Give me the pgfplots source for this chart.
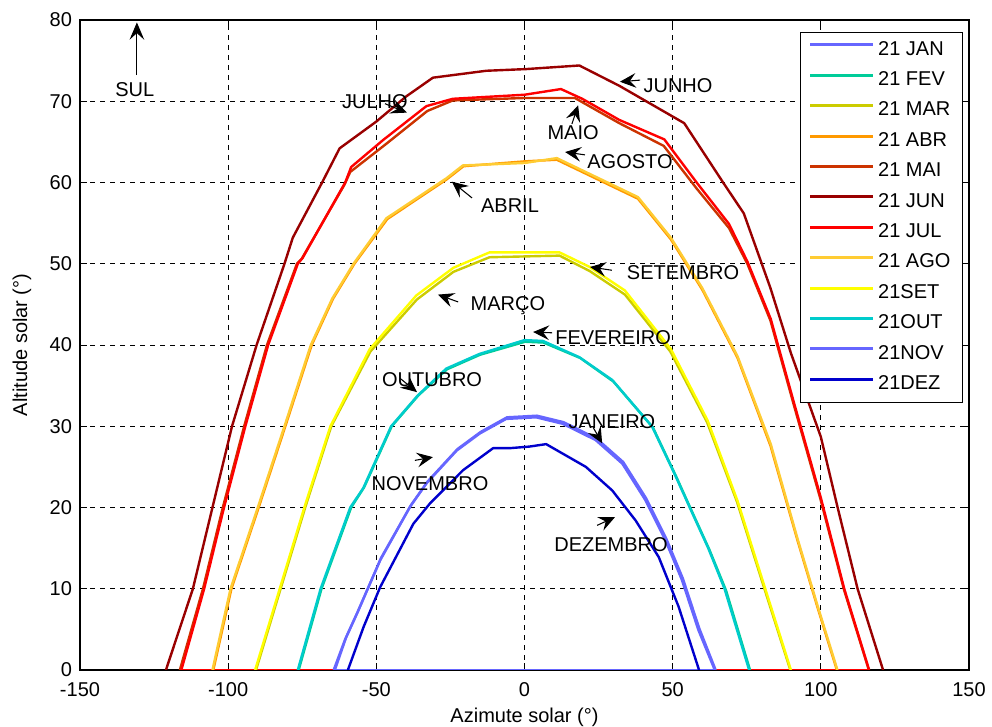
\documentclass[border=0pt]{standalone}
\usepackage{fontspec}
\setmainfont{Liberation Sans}
\usepackage{pgfplots}
\pgfplotsset{compat=1.18}
\usetikzlibrary{arrows.meta}
\definecolor{cjan}{HTML}{6666FF}
\definecolor{cfev}{HTML}{00CC99}
\definecolor{cmar}{HTML}{CCCC00}
\definecolor{cabr}{HTML}{FF9900}
\definecolor{cmai}{HTML}{CC3300}
\definecolor{cjun}{HTML}{990000}
\definecolor{cjul}{HTML}{FF0000}
\definecolor{cago}{HTML}{FFCC33}
\definecolor{cset}{HTML}{FFFF00}
\definecolor{cout}{HTML}{00CCCC}
\definecolor{cnov}{HTML}{6666FF}
\definecolor{cdez}{HTML}{0000CC}
\newcommand{\fs}{\fontsize{15}{18}\selectfont}
\begin{document}
\begin{tikzpicture}
\begin{axis}[name=ax,
  scale only axis, width=666.75pt, height=487.5pt,
  xmin=-150, xmax=150, ymin=0, ymax=80,
  xtick={-150,-100,...,150}, ytick={0,10,...,80},
  grid=major, grid style={black, dash pattern=on 4pt off 3.5pt, line width=0.6pt},
  tick align=inside, xtick pos=both, ytick pos=both, major tick length=5pt,
  tick style={black, line width=0.6pt},
  axis line style={black, line width=0.8pt},
  ticklabel style={font=\fs},
  xticklabel style={yshift=-5.5pt},
  yticklabel style={xshift=-2.5pt},
  /pgf/number format/assume math mode=true,
  xlabel={Azimute solar (°)}, ylabel={Altitude solar (°)},
  every axis x label/.style={at={(axis description cs:0.5,-0.0728)}, anchor=center, font=\fs},
  every axis y label/.style={at={(axis description cs:-0.0652,0.5)}, anchor=center, rotate=90, font=\fs},
  legend style={at={(axis description cs:1,1)}, anchor=north east, xshift=-4.5pt, yshift=-9pt,
    draw=black, line width=0.8pt, fill=white, font=\fs, row sep=8.3pt,
    inner xsep=6pt, inner ysep=6pt,
    nodes={text height=11pt, text depth=3.5pt, inner ysep=0pt, inner xsep=3pt}},
  legend cell align=left,
  legend image code/.code={\draw[#1, line width=2.2pt] (0pt,4pt) -- (47pt,4pt);},
  every axis plot/.append style={line width=1.8pt, line join=round},
]
% zero-altitude segments along the bottom
\addplot[forget plot, cjul] coordinates {(-116,0) (116,0)};
\addplot[forget plot, cnov] coordinates {(-64.4,0) (64.2,0)};
% 21 JAN
\addplot[cjan] coordinates {(-64.4,0) (-60.5,3.8) (-56.5,7) (-48.7,13.5) (-38.6,20.1) (-33,23) (-22.9,27) (-15.1,29.1) (-6.2,30.9) (3.9,31.1) (12.9,30.3) (24,28.3) (33,25.4) (40.8,20.9) (47.5,16) (53.1,11.1) (58.7,4.9) (64.2,0)};
% 21 FEV
\addplot[cfev] coordinates {(-76.2,0) (-68.5,10) (-58.5,20) (-54.1,22.5) (-44.8,30) (-35.8,33.8) (-26.2,37) (-15,38.8) (0.2,40.4) (6.4,40.3) (18.8,38.4) (30,35.5) (43.4,29.8) (51.2,23.8) (56.4,19.6) (62.4,14.8) (68,9.8) (76.1,0)};
% 21 MAR
\addplot[cmar] coordinates {(-90.6,0) (-82.3,10) (-74,20) (-65.2,30) (-52,39.2) (-36.3,45.6) (-24,49) (-11.8,50.8) (11.8,51) (22,49.1) (33.9,46.2) (49.2,39.2) (61.6,30.5) (71.7,20.7) (80.7,10.3) (89.7,0)};
% 21 ABR
\addplot[cabr] coordinates {(-105,0) (-98.9,10) (-89.7,20) (-80.7,30) (-71.8,40) (-64.6,45.7) (-57.4,50) (-46.3,55.5) (-26.2,60.4) (-20.6,62) (0,62.6) (10.9,62.8) (38.3,58) (49.4,53) (60,46.8) (71.9,38.4) (83,27.6) (92,16.1) (98.8,7.8) (105.4,0)};
% 21 MAI
\addplot[cmai] coordinates {(-116.3,0) (-108.5,10) (-101.8,20) (-94.6,30) (-86.9,40) (-76.8,50) (-75.2,50.6) (-60.8,59.7) (-58.8,61.3) (-47.2,64.6) (-32.8,68.8) (-24.2,70.1) (0,70.4) (17,70.4) (32,67.3) (47,64.5) (58,59.3) (69,54.4) (75.2,50) (83,43) (90.9,32.6) (99.9,21) (107.8,9.9) (116.2,0)};
% 21 JUN
\addplot[cjun] coordinates {(-121,0) (-111.9,10) (-105.3,20) (-98.7,30) (-90.4,40) (-81,50) (-78.2,53.2) (-68.3,60) (-62.4,64.2) (-50,67.5) (-39.9,70.6) (-30.9,72.9) (-12.9,73.75) (0.6,73.96) (18.5,74.4) (32,71.9) (53.9,67.3) (67.2,59.9) (74,56.2) (83,47) (89.9,39) (100,28.7) (105.6,20.1) (112.4,10) (121,0)};
% 21 JUL
\addplot[cjul] coordinates {(-115.8,0) (-108.1,10) (-101.4,20) (-94.2,30) (-86.5,40) (-76.5,50) (-74.9,50.7) (-60.5,60) (-58.5,61.9) (-47.8,65.2) (-33.1,69.4) (-24.2,70.3) (0,70.8) (12.3,71.5) (19.5,70.3) (32,67.7) (47.2,65.3) (58.3,59.9) (69,54.9) (75.3,50.2) (83.1,43.2) (91,32.8) (100,21.2) (107.9,10) (116.3,0)};
% 21 AGO
\addplot[cago] coordinates {(-105.3,0) (-99.2,10) (-90,20) (-81,30) (-72.1,40) (-64.9,45.7) (-57.7,50) (-46.6,55.6) (-26.4,60.5) (-20.8,62.1) (0,62.4) (10.9,63) (38.3,58.2) (49.4,53.2) (60,47) (71.9,38.6) (83.1,27.8) (92.1,16.2) (98.9,7.9) (105.6,0)};
% 21 SET
\addplot[cset] coordinates {(-90.9,0) (-82.6,10) (-74.3,20) (-65.5,30) (-52.2,39.5) (-36.5,46.1) (-24,49.5) (-11.8,51.4) (11.8,51.4) (22,49.6) (33.9,46.7) (49.4,39.5) (61.8,30.7) (71.9,20.8) (80.9,10.4) (89.9,0)};
% 21 OUT
\addplot[cout] coordinates {(-76.5,0) (-68.8,10) (-58.8,20) (-54.4,22.4) (-45,30) (-36,33.8) (-26.4,37.1) (-15.2,38.9) (0,40.6) (6.2,40.5) (18.5,38.5) (29.6,35.7) (43,30) (50.8,24) (56,19.8) (62,15) (67.5,10) (75.8,0)};
% 21 NOV
\addplot[cnov] coordinates {(-64,0) (-60.2,4) (-56.2,7.2) (-48.4,13.8) (-38.3,20.3) (-32.7,23.2) (-22.6,27.2) (-14.8,29.3) (-5.9,31.1) (4.2,31.3) (13.2,30.5) (24.3,28.5) (33.3,25.6) (41.1,21.1) (47.8,16.2) (53.4,11.3) (59,5.1) (64.5,0)};
% 21 DEZ
\addplot[cdez] coordinates {(-59.6,0) (-54.3,5.3) (-48.7,10.2) (-37.5,18) (-31.9,20.5) (-20.7,24.6) (-10.6,27.3) (-5,27.3) (1.7,27.5) (7.3,27.8) (20.7,25) (29.6,22.1) (37.5,18.4) (45.3,13.9) (52,7.8) (58.9,0)};
\legend{21 JAN, 21 FEV, 21 MAR, 21 ABR, 21 MAI, 21 JUN, 21 JUL, 21 AGO, 21SET, 21OUT, 21NOV, 21DEZ}
% annotations
\begin{scope}[font=\fs, text=black]
\node at (axis cs:-131.5,71.4) {SUL};
\node at (axis cs:-50.5,69.9) {JULHO};
\node at (axis cs:16.4,66.1) {MAIO};
\node at (axis cs:35.6,62.6) {AGOSTO};
\node at (axis cs:51.8,71.9) {JUNHO};
\node at (axis cs:-4.9,57.1) {ABRIL};
\node at (axis cs:53.5,48.9) {SETEMBRO};
\node at (axis cs:-5.6,44.9) {MARÇO};
\node at (axis cs:29.9,40.9) {FEVEREIRO};
\node at (axis cs:-31.2,35.7) {OUTUBRO};
\node at (axis cs:29.5,30.6) {JANEIRO};
\node at (axis cs:-31.9,22.9) {NOVEMBRO};
\node at (axis cs:29.2,15.4) {DEZEMBRO};
\end{scope}
\begin{scope}[black, line width=0.8pt, -{Stealth[length=12pt,width=11pt,inset=4.5pt]}]
\draw[line width=0.7pt, -{Stealth[length=13pt,width=11pt,inset=5pt]}] (axis cs:-130.8,73.2) -- (axis cs:-130.8,79.7);
\draw (axis cs:-47.1,69.7) -- (axis cs:-39.7,68.6);
\draw (axis cs:16,67.2) -- (axis cs:18.1,69.5);
\draw (axis cs:20.4,63.4) -- (axis cs:13.7,63.75);
\draw (axis cs:39,72.6) -- (axis cs:32.2,72.4);
\draw (axis cs:-17.7,58.1) -- (axis cs:-24.5,60.1);
\draw (axis cs:29.5,49.2) -- (axis cs:22.1,49.6);
\draw (axis cs:-22.4,45.3) -- (axis cs:-29.2,46.2);
\draw (axis cs:9.3,41.5) -- (axis cs:2.9,41.6);
\draw (axis cs:-42,35.9) -- (axis cs:-36.3,34.2);
\draw (axis cs:23.1,29.9) -- (axis cs:26.2,27.9);
\draw (axis cs:-37,25.8) -- (axis cs:-30.9,26.2);
\draw (axis cs:24.5,17.8) -- (axis cs:30.5,18.8);
\end{scope}
\end{axis}
\pgfresetboundingbox
\path ([xshift=-60pt,yshift=-42.75pt]ax.south west) rectangle ([xshift=17.25pt,yshift=15pt]ax.north east);
\end{tikzpicture}
\end{document}
